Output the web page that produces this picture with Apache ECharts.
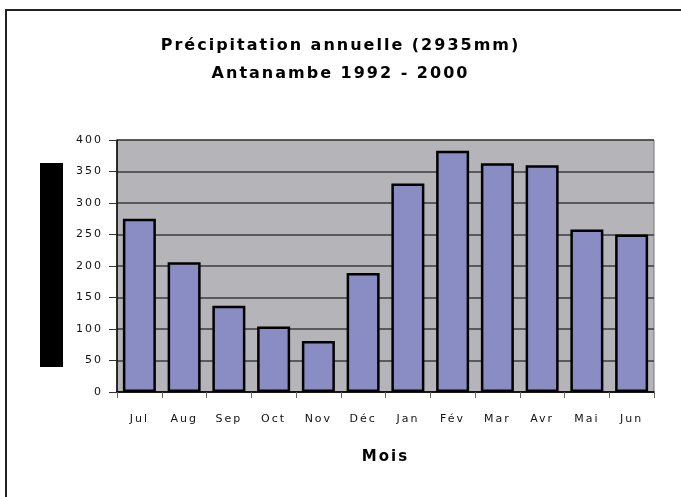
<!DOCTYPE html>
<html>
<head>
<meta charset="utf-8">
<script src="https://cdn.jsdelivr.net/npm/echarts@6/dist/echarts.min.js"></script>
<style>
  html, body { margin: 0; padding: 0; background: #fff; }
  #chart { width: 681px; height: 497px; }
</style>
</head>
<body>
<div id="chart"></div>
<script>
// données : précipitations mensuelles moyennes (mm)
var mois = ['Jul', 'Aug', 'Sep', 'Oct', 'Nov', 'Déc', 'Jan', 'Fév', 'Mar', 'Avr', 'Mai', 'Jun'];
var pluie = [275, 206, 137, 104, 81, 189, 331, 383, 363, 360, 258, 250];
var yTicks = [0, 50, 100, 150, 200, 250, 300, 350, 400];

// texte espacé comme dans l'original (lettres écartées)
var _getContext = HTMLCanvasElement.prototype.getContext;
HTMLCanvasElement.prototype.getContext = function () {
    var ctx = _getContext.apply(this, arguments);
    if (ctx && 'letterSpacing' in ctx) {
        ctx.letterSpacing = '2px';
    }
    return ctx;
};

var myChart = echarts.init(document.getElementById('chart'));

var option = {
    backgroundColor: '#fff',
    animation: false,
    title: {
        text: 'Précipitation annuelle (2935mm)\nAntanambe 1992 - 2000',
        left: 'center',
        top: 27,
        textStyle: {
            fontFamily: 'DejaVu Sans',
            fontWeight: 'bold',
            fontSize: 16,
            lineHeight: 28,
            color: '#000'
        }
    },
    graphic: [
        {
            type: 'rect',
            shape: { x: 6, y: 10, width: 720, height: 520 },
            style: { fill: 'none', stroke: '#222', lineWidth: 2 },
            silent: true
        },
        {
            // titre de l'axe Y masqué (bloc noir)
            type: 'rect',
            shape: { x: 40, y: 163, width: 23, height: 204 },
            style: { fill: '#000' },
            silent: true
        }
    ],
    grid: {
        left: 117,
        right: 27,
        top: 140,
        bottom: 105,
        show: true,
        backgroundColor: '#b5b5b9',
        borderColor: '#777',
        borderWidth: 1
    },
    xAxis: {
        type: 'category',
        data: mois,
        name: 'Mois',
        nameLocation: 'middle',
        nameGap: 57,
        nameTextStyle: {
            fontFamily: 'DejaVu Sans',
            fontWeight: 'bold',
            fontSize: 15,
            color: '#000'
        },
        axisLine: { lineStyle: { color: '#000', width: 1.5 } },
        axisTick: { show: true, length: 6, lineStyle: { color: '#666' } },
        axisLabel: {
            margin: 21,
            fontFamily: 'DejaVu Sans',
            fontSize: 11,
            color: '#111'
        }
    },
    yAxis: {
        type: 'value',
        min: yTicks[0],
        max: yTicks[yTicks.length - 1],
        interval: 50,
        axisLine: { show: true, lineStyle: { color: '#000', width: 1.5 } },
        axisTick: { show: true, length: 8, lineStyle: { color: '#333' } },
        axisLabel: {
            margin: 14,
            fontFamily: 'DejaVu Sans',
            fontSize: 11,
            color: '#111'
        },
        splitLine: { lineStyle: { color: '#3c3c3c', width: 1.5 } }
    },
    series: [
        {
            name: 'Précipitation',
            type: 'bar',
            data: pluie,
            barWidth: 33,
            itemStyle: {
                color: '#8a8cc4',
                borderColor: '#000',
                borderWidth: 2.5
            }
        }
    ]
};

myChart.setOption(option);
</script>
</body>
</html>
